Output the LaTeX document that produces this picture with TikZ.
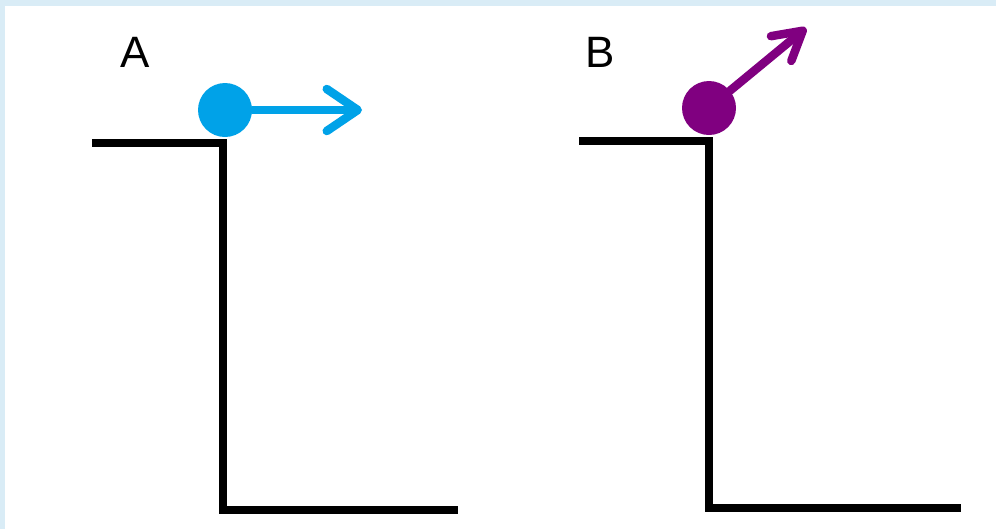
\documentclass[tikz,border=0pt]{standalone}
\usepackage{fontspec}
\setmainfont{Liberation Sans}
\usetikzlibrary{arrows.meta}

\definecolor{frameblue}{RGB}{217,236,246}
\definecolor{ballcyan}{RGB}{0,162,232}
\definecolor{ballpurple}{RGB}{128,0,128}

\begin{document}
\begin{tikzpicture}[x=0.02cm, y=-0.02cm,
    wall/.style={line width=0.16cm, black, line join=miter},
    ball/.style={circle, inner sep=0pt, minimum size=1.08cm},
    shaft/.style={line width=0.17cm, line cap=round},
    label/.style={font=\fontsize{25}{30}\selectfont, inner sep=0pt}]

    % Step 1: frame
    \fill[frameblue] (0,0) rectangle (996,529);
    \fill[white] (5,6) rectangle (996,529);
    \useasboundingbox (0,0) rectangle (996,529);

    % Step 2: coordinates
    \coordinate (tipA) at (362,110);
    \coordinate (tipB) at (806,28);

    % Step 3: cliff A
    \draw[wall] (92,143) -- (223,143) -- (223,510) -- (458,510);

    % Step 4: cliff B
    \draw[wall] (579,141) -- (709,141) -- (709,508) -- (961,508);

    % Step 5: balls
    \node[ball, fill=ballcyan] (ballA) at (225,110) {};
    \node[ball, fill=ballpurple] (ballB) at (709,108) {};

    % Step 6: velocity arrows
    \draw[shaft, ballcyan, -{Straight Barb[length=0.62cm, width=0.84cm, round]}] (ballA) -- (tipA);
    \draw[shaft, ballpurple, -{Straight Barb[length=0.56cm, width=0.64cm, round]}] (ballB) -- (tipB);

    % labels
    \foreach \name/\x in {A/135, B/600} {
        \node[label] (label\name) at (\x,52) {\name};
    }

\end{tikzpicture}
\end{document}
